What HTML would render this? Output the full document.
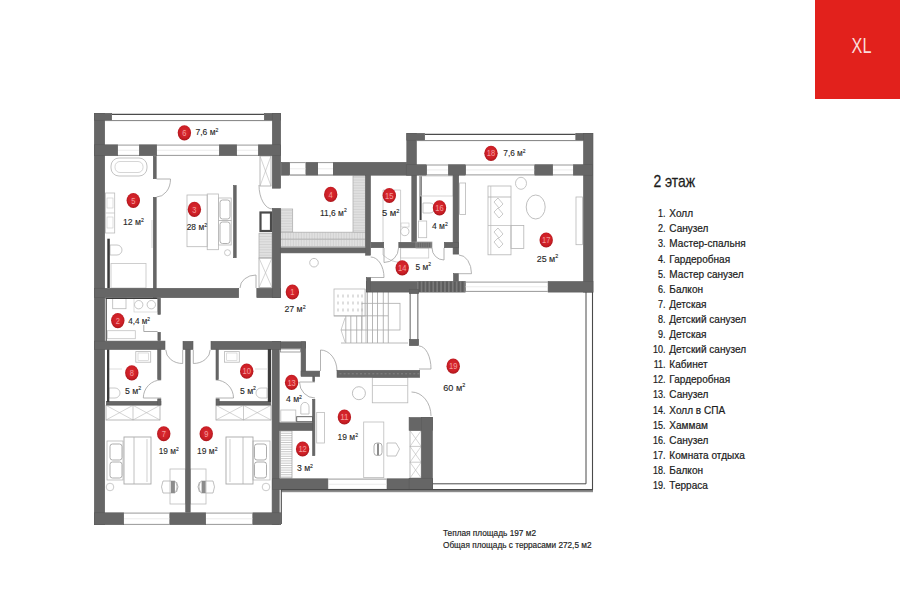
<!DOCTYPE html>
<html><head><meta charset="utf-8"><style>
html,body{margin:0;padding:0;background:#fff;width:900px;height:600px;overflow:hidden}
svg{display:block;font-family:"Liberation Sans",sans-serif}
</style></head><body>
<svg width="900" height="600" viewBox="0 0 900 600">
<defs><radialGradient id="bg" cx="0.5" cy="0.45" r="0.55"><stop offset="0" stop-color="#dc2a30"/><stop offset="0.7" stop-color="#cc1f26"/><stop offset="1" stop-color="#a8161c"/></radialGradient></defs>
<rect x="815" y="0" width="85" height="99" fill="#e2211c"/>
<text x="861.5" y="52.7" text-anchor="middle" font-size="21.4" fill="#fbdcda" transform="translate(861.5 0) scale(0.76 1) translate(-861.5 0)">XL</text>
<rect x="111" y="158" width="36" height="18" rx="8" fill="none" stroke="#bcbcbc" stroke-width="0.9"/>
<rect x="115" y="161.5" width="28" height="11.0" rx="5" fill="none" stroke="#c4c4c4" stroke-width="0.7"/>
<rect x="105.5" y="193" width="9.2" height="40" rx="0" fill="none" stroke="#bcbcbc" stroke-width="0.8"/>
<line x1="105.5" y1="213" x2="114.7" y2="213" stroke="#bcbcbc" stroke-width="0.7"/>
<rect x="107" y="198" width="6" height="10" rx="0" fill="none" stroke="#cacaca" stroke-width="0.6"/>
<rect x="107" y="217" width="6" height="11" rx="0" fill="none" stroke="#cacaca" stroke-width="0.6"/>
<path d="M110,245 H117 A5,5 0 0 1 117,255 H110 Z" fill="none" stroke="#b8b8b8" stroke-width="0.8"/>
<rect x="111" y="263.5" width="35" height="24.5" rx="0" fill="none" stroke="#c3c3c3" stroke-width="0.8"/>
<line x1="152" y1="220" x2="152" y2="248" stroke="#c4c4c4" stroke-width="0.7"/>
<rect x="187" y="195" width="20.2" height="51.7" rx="0" fill="none" stroke="#b8b8b8" stroke-width="0.8"/>
<rect x="207.2" y="194" width="11.3" height="55.7" rx="0" fill="none" stroke="#b8b8b8" stroke-width="0.8"/>
<rect x="218.5" y="198" width="12.7" height="22.5" rx="0" fill="none" stroke="#b8b8b8" stroke-width="0.8"/>
<rect x="218.5" y="220.5" width="12.7" height="24.5" rx="0" fill="none" stroke="#b8b8b8" stroke-width="0.8"/>
<rect x="220" y="200" width="10" height="19" rx="2.5" fill="none" stroke="#a8a8a8" stroke-width="0.9"/>
<rect x="220" y="222" width="10" height="21.5" rx="2.5" fill="none" stroke="#a8a8a8" stroke-width="0.9"/>
<circle cx="227.5" cy="252.7" r="3" fill="none" stroke="#bcbcbc" stroke-width="0.8"/>
<rect x="260" y="156" width="11" height="30" rx="0" fill="none" stroke="#a8a8a8" stroke-width="0.8"/>
<line x1="260" y1="156.0" x2="271" y2="186.0" stroke="#b8b8b8" stroke-width="0.6"/>
<line x1="271" y1="156.0" x2="260" y2="186.0" stroke="#b8b8b8" stroke-width="0.6"/>
<rect x="259" y="233.3" width="13" height="24.7" fill="#ececec"/>
<rect x="259" y="233.3" width="13" height="24.7" rx="0" fill="none" stroke="#a6a6a6" stroke-width="0.7"/>
<line x1="259" y1="234.9" x2="272" y2="234.9" stroke="#b6b6b6" stroke-width="0.5"/>
<line x1="259" y1="236.5" x2="272" y2="236.5" stroke="#b6b6b6" stroke-width="0.5"/>
<line x1="259" y1="238.1" x2="272" y2="238.1" stroke="#b6b6b6" stroke-width="0.5"/>
<line x1="259" y1="239.7" x2="272" y2="239.7" stroke="#b6b6b6" stroke-width="0.5"/>
<line x1="259" y1="241.29999999999998" x2="272" y2="241.29999999999998" stroke="#b6b6b6" stroke-width="0.5"/>
<line x1="259" y1="242.89999999999998" x2="272" y2="242.89999999999998" stroke="#b6b6b6" stroke-width="0.5"/>
<line x1="259" y1="244.49999999999997" x2="272" y2="244.49999999999997" stroke="#b6b6b6" stroke-width="0.5"/>
<line x1="259" y1="246.09999999999997" x2="272" y2="246.09999999999997" stroke="#b6b6b6" stroke-width="0.5"/>
<line x1="259" y1="247.69999999999996" x2="272" y2="247.69999999999996" stroke="#b6b6b6" stroke-width="0.5"/>
<line x1="259" y1="249.29999999999995" x2="272" y2="249.29999999999995" stroke="#b6b6b6" stroke-width="0.5"/>
<line x1="259" y1="250.89999999999995" x2="272" y2="250.89999999999995" stroke="#b6b6b6" stroke-width="0.5"/>
<line x1="259" y1="252.49999999999994" x2="272" y2="252.49999999999994" stroke="#b6b6b6" stroke-width="0.5"/>
<line x1="259" y1="254.09999999999994" x2="272" y2="254.09999999999994" stroke="#b6b6b6" stroke-width="0.5"/>
<line x1="259" y1="255.69999999999993" x2="272" y2="255.69999999999993" stroke="#b6b6b6" stroke-width="0.5"/>
<line x1="259" y1="257.29999999999995" x2="272" y2="257.29999999999995" stroke="#b6b6b6" stroke-width="0.5"/>
<rect x="259" y="258" width="13" height="29.5" rx="0" fill="none" stroke="#a8a8a8" stroke-width="0.8"/>
<line x1="259" y1="258.0" x2="272" y2="287.5" stroke="#b8b8b8" stroke-width="0.6"/>
<line x1="272" y1="258.0" x2="259" y2="287.5" stroke="#b8b8b8" stroke-width="0.6"/>
<rect x="353" y="176" width="12.3" height="56.2" fill="#ececec"/>
<rect x="353" y="176" width="12.3" height="56.2" rx="0" fill="none" stroke="#a6a6a6" stroke-width="0.7"/>
<line x1="353" y1="177.6" x2="365.3" y2="177.6" stroke="#b6b6b6" stroke-width="0.5"/>
<line x1="353" y1="179.2" x2="365.3" y2="179.2" stroke="#b6b6b6" stroke-width="0.5"/>
<line x1="353" y1="180.79999999999998" x2="365.3" y2="180.79999999999998" stroke="#b6b6b6" stroke-width="0.5"/>
<line x1="353" y1="182.39999999999998" x2="365.3" y2="182.39999999999998" stroke="#b6b6b6" stroke-width="0.5"/>
<line x1="353" y1="183.99999999999997" x2="365.3" y2="183.99999999999997" stroke="#b6b6b6" stroke-width="0.5"/>
<line x1="353" y1="185.59999999999997" x2="365.3" y2="185.59999999999997" stroke="#b6b6b6" stroke-width="0.5"/>
<line x1="353" y1="187.19999999999996" x2="365.3" y2="187.19999999999996" stroke="#b6b6b6" stroke-width="0.5"/>
<line x1="353" y1="188.79999999999995" x2="365.3" y2="188.79999999999995" stroke="#b6b6b6" stroke-width="0.5"/>
<line x1="353" y1="190.39999999999995" x2="365.3" y2="190.39999999999995" stroke="#b6b6b6" stroke-width="0.5"/>
<line x1="353" y1="191.99999999999994" x2="365.3" y2="191.99999999999994" stroke="#b6b6b6" stroke-width="0.5"/>
<line x1="353" y1="193.59999999999994" x2="365.3" y2="193.59999999999994" stroke="#b6b6b6" stroke-width="0.5"/>
<line x1="353" y1="195.19999999999993" x2="365.3" y2="195.19999999999993" stroke="#b6b6b6" stroke-width="0.5"/>
<line x1="353" y1="196.79999999999993" x2="365.3" y2="196.79999999999993" stroke="#b6b6b6" stroke-width="0.5"/>
<line x1="353" y1="198.39999999999992" x2="365.3" y2="198.39999999999992" stroke="#b6b6b6" stroke-width="0.5"/>
<line x1="353" y1="199.99999999999991" x2="365.3" y2="199.99999999999991" stroke="#b6b6b6" stroke-width="0.5"/>
<line x1="353" y1="201.5999999999999" x2="365.3" y2="201.5999999999999" stroke="#b6b6b6" stroke-width="0.5"/>
<line x1="353" y1="203.1999999999999" x2="365.3" y2="203.1999999999999" stroke="#b6b6b6" stroke-width="0.5"/>
<line x1="353" y1="204.7999999999999" x2="365.3" y2="204.7999999999999" stroke="#b6b6b6" stroke-width="0.5"/>
<line x1="353" y1="206.3999999999999" x2="365.3" y2="206.3999999999999" stroke="#b6b6b6" stroke-width="0.5"/>
<line x1="353" y1="207.9999999999999" x2="365.3" y2="207.9999999999999" stroke="#b6b6b6" stroke-width="0.5"/>
<line x1="353" y1="209.59999999999988" x2="365.3" y2="209.59999999999988" stroke="#b6b6b6" stroke-width="0.5"/>
<line x1="353" y1="211.19999999999987" x2="365.3" y2="211.19999999999987" stroke="#b6b6b6" stroke-width="0.5"/>
<line x1="353" y1="212.79999999999987" x2="365.3" y2="212.79999999999987" stroke="#b6b6b6" stroke-width="0.5"/>
<line x1="353" y1="214.39999999999986" x2="365.3" y2="214.39999999999986" stroke="#b6b6b6" stroke-width="0.5"/>
<line x1="353" y1="215.99999999999986" x2="365.3" y2="215.99999999999986" stroke="#b6b6b6" stroke-width="0.5"/>
<line x1="353" y1="217.59999999999985" x2="365.3" y2="217.59999999999985" stroke="#b6b6b6" stroke-width="0.5"/>
<line x1="353" y1="219.19999999999985" x2="365.3" y2="219.19999999999985" stroke="#b6b6b6" stroke-width="0.5"/>
<line x1="353" y1="220.79999999999984" x2="365.3" y2="220.79999999999984" stroke="#b6b6b6" stroke-width="0.5"/>
<line x1="353" y1="222.39999999999984" x2="365.3" y2="222.39999999999984" stroke="#b6b6b6" stroke-width="0.5"/>
<line x1="353" y1="223.99999999999983" x2="365.3" y2="223.99999999999983" stroke="#b6b6b6" stroke-width="0.5"/>
<line x1="353" y1="225.59999999999982" x2="365.3" y2="225.59999999999982" stroke="#b6b6b6" stroke-width="0.5"/>
<line x1="353" y1="227.19999999999982" x2="365.3" y2="227.19999999999982" stroke="#b6b6b6" stroke-width="0.5"/>
<line x1="353" y1="228.7999999999998" x2="365.3" y2="228.7999999999998" stroke="#b6b6b6" stroke-width="0.5"/>
<line x1="353" y1="230.3999999999998" x2="365.3" y2="230.3999999999998" stroke="#b6b6b6" stroke-width="0.5"/>
<rect x="280.8" y="209" width="11.9" height="23.2" fill="#ececec"/>
<rect x="280.8" y="209" width="11.9" height="23.2" rx="0" fill="none" stroke="#a6a6a6" stroke-width="0.7"/>
<line x1="280.8" y1="210.6" x2="292.7" y2="210.6" stroke="#b6b6b6" stroke-width="0.5"/>
<line x1="280.8" y1="212.2" x2="292.7" y2="212.2" stroke="#b6b6b6" stroke-width="0.5"/>
<line x1="280.8" y1="213.79999999999998" x2="292.7" y2="213.79999999999998" stroke="#b6b6b6" stroke-width="0.5"/>
<line x1="280.8" y1="215.39999999999998" x2="292.7" y2="215.39999999999998" stroke="#b6b6b6" stroke-width="0.5"/>
<line x1="280.8" y1="216.99999999999997" x2="292.7" y2="216.99999999999997" stroke="#b6b6b6" stroke-width="0.5"/>
<line x1="280.8" y1="218.59999999999997" x2="292.7" y2="218.59999999999997" stroke="#b6b6b6" stroke-width="0.5"/>
<line x1="280.8" y1="220.19999999999996" x2="292.7" y2="220.19999999999996" stroke="#b6b6b6" stroke-width="0.5"/>
<line x1="280.8" y1="221.79999999999995" x2="292.7" y2="221.79999999999995" stroke="#b6b6b6" stroke-width="0.5"/>
<line x1="280.8" y1="223.39999999999995" x2="292.7" y2="223.39999999999995" stroke="#b6b6b6" stroke-width="0.5"/>
<line x1="280.8" y1="224.99999999999994" x2="292.7" y2="224.99999999999994" stroke="#b6b6b6" stroke-width="0.5"/>
<line x1="280.8" y1="226.59999999999994" x2="292.7" y2="226.59999999999994" stroke="#b6b6b6" stroke-width="0.5"/>
<line x1="280.8" y1="228.19999999999993" x2="292.7" y2="228.19999999999993" stroke="#b6b6b6" stroke-width="0.5"/>
<line x1="280.8" y1="229.79999999999993" x2="292.7" y2="229.79999999999993" stroke="#b6b6b6" stroke-width="0.5"/>
<line x1="280.8" y1="231.39999999999992" x2="292.7" y2="231.39999999999992" stroke="#b6b6b6" stroke-width="0.5"/>
<rect x="280.8" y="232.2" width="84.5" height="7.0" fill="#ececec"/>
<rect x="280.8" y="232.2" width="84.5" height="7.0" rx="0" fill="none" stroke="#a6a6a6" stroke-width="0.7"/>
<line x1="282.40000000000003" y1="232.2" x2="282.40000000000003" y2="239.2" stroke="#b6b6b6" stroke-width="0.5"/>
<line x1="284.00000000000006" y1="232.2" x2="284.00000000000006" y2="239.2" stroke="#b6b6b6" stroke-width="0.5"/>
<line x1="285.6000000000001" y1="232.2" x2="285.6000000000001" y2="239.2" stroke="#b6b6b6" stroke-width="0.5"/>
<line x1="287.2000000000001" y1="232.2" x2="287.2000000000001" y2="239.2" stroke="#b6b6b6" stroke-width="0.5"/>
<line x1="288.8000000000001" y1="232.2" x2="288.8000000000001" y2="239.2" stroke="#b6b6b6" stroke-width="0.5"/>
<line x1="290.40000000000015" y1="232.2" x2="290.40000000000015" y2="239.2" stroke="#b6b6b6" stroke-width="0.5"/>
<line x1="292.00000000000017" y1="232.2" x2="292.00000000000017" y2="239.2" stroke="#b6b6b6" stroke-width="0.5"/>
<line x1="293.6000000000002" y1="232.2" x2="293.6000000000002" y2="239.2" stroke="#b6b6b6" stroke-width="0.5"/>
<line x1="295.2000000000002" y1="232.2" x2="295.2000000000002" y2="239.2" stroke="#b6b6b6" stroke-width="0.5"/>
<line x1="296.80000000000024" y1="232.2" x2="296.80000000000024" y2="239.2" stroke="#b6b6b6" stroke-width="0.5"/>
<line x1="298.40000000000026" y1="232.2" x2="298.40000000000026" y2="239.2" stroke="#b6b6b6" stroke-width="0.5"/>
<line x1="300.0000000000003" y1="232.2" x2="300.0000000000003" y2="239.2" stroke="#b6b6b6" stroke-width="0.5"/>
<line x1="301.6000000000003" y1="232.2" x2="301.6000000000003" y2="239.2" stroke="#b6b6b6" stroke-width="0.5"/>
<line x1="303.20000000000033" y1="232.2" x2="303.20000000000033" y2="239.2" stroke="#b6b6b6" stroke-width="0.5"/>
<line x1="304.80000000000035" y1="232.2" x2="304.80000000000035" y2="239.2" stroke="#b6b6b6" stroke-width="0.5"/>
<line x1="306.4000000000004" y1="232.2" x2="306.4000000000004" y2="239.2" stroke="#b6b6b6" stroke-width="0.5"/>
<line x1="308.0000000000004" y1="232.2" x2="308.0000000000004" y2="239.2" stroke="#b6b6b6" stroke-width="0.5"/>
<line x1="309.6000000000004" y1="232.2" x2="309.6000000000004" y2="239.2" stroke="#b6b6b6" stroke-width="0.5"/>
<line x1="311.20000000000044" y1="232.2" x2="311.20000000000044" y2="239.2" stroke="#b6b6b6" stroke-width="0.5"/>
<line x1="312.80000000000047" y1="232.2" x2="312.80000000000047" y2="239.2" stroke="#b6b6b6" stroke-width="0.5"/>
<line x1="314.4000000000005" y1="232.2" x2="314.4000000000005" y2="239.2" stroke="#b6b6b6" stroke-width="0.5"/>
<line x1="316.0000000000005" y1="232.2" x2="316.0000000000005" y2="239.2" stroke="#b6b6b6" stroke-width="0.5"/>
<line x1="317.60000000000053" y1="232.2" x2="317.60000000000053" y2="239.2" stroke="#b6b6b6" stroke-width="0.5"/>
<line x1="319.20000000000056" y1="232.2" x2="319.20000000000056" y2="239.2" stroke="#b6b6b6" stroke-width="0.5"/>
<line x1="320.8000000000006" y1="232.2" x2="320.8000000000006" y2="239.2" stroke="#b6b6b6" stroke-width="0.5"/>
<line x1="322.4000000000006" y1="232.2" x2="322.4000000000006" y2="239.2" stroke="#b6b6b6" stroke-width="0.5"/>
<line x1="324.0000000000006" y1="232.2" x2="324.0000000000006" y2="239.2" stroke="#b6b6b6" stroke-width="0.5"/>
<line x1="325.60000000000065" y1="232.2" x2="325.60000000000065" y2="239.2" stroke="#b6b6b6" stroke-width="0.5"/>
<line x1="327.20000000000067" y1="232.2" x2="327.20000000000067" y2="239.2" stroke="#b6b6b6" stroke-width="0.5"/>
<line x1="328.8000000000007" y1="232.2" x2="328.8000000000007" y2="239.2" stroke="#b6b6b6" stroke-width="0.5"/>
<line x1="330.4000000000007" y1="232.2" x2="330.4000000000007" y2="239.2" stroke="#b6b6b6" stroke-width="0.5"/>
<line x1="332.00000000000074" y1="232.2" x2="332.00000000000074" y2="239.2" stroke="#b6b6b6" stroke-width="0.5"/>
<line x1="333.60000000000076" y1="232.2" x2="333.60000000000076" y2="239.2" stroke="#b6b6b6" stroke-width="0.5"/>
<line x1="335.2000000000008" y1="232.2" x2="335.2000000000008" y2="239.2" stroke="#b6b6b6" stroke-width="0.5"/>
<line x1="336.8000000000008" y1="232.2" x2="336.8000000000008" y2="239.2" stroke="#b6b6b6" stroke-width="0.5"/>
<line x1="338.40000000000083" y1="232.2" x2="338.40000000000083" y2="239.2" stroke="#b6b6b6" stroke-width="0.5"/>
<line x1="340.00000000000085" y1="232.2" x2="340.00000000000085" y2="239.2" stroke="#b6b6b6" stroke-width="0.5"/>
<line x1="341.6000000000009" y1="232.2" x2="341.6000000000009" y2="239.2" stroke="#b6b6b6" stroke-width="0.5"/>
<line x1="343.2000000000009" y1="232.2" x2="343.2000000000009" y2="239.2" stroke="#b6b6b6" stroke-width="0.5"/>
<line x1="344.8000000000009" y1="232.2" x2="344.8000000000009" y2="239.2" stroke="#b6b6b6" stroke-width="0.5"/>
<line x1="346.40000000000094" y1="232.2" x2="346.40000000000094" y2="239.2" stroke="#b6b6b6" stroke-width="0.5"/>
<line x1="348.00000000000097" y1="232.2" x2="348.00000000000097" y2="239.2" stroke="#b6b6b6" stroke-width="0.5"/>
<line x1="349.600000000001" y1="232.2" x2="349.600000000001" y2="239.2" stroke="#b6b6b6" stroke-width="0.5"/>
<line x1="351.200000000001" y1="232.2" x2="351.200000000001" y2="239.2" stroke="#b6b6b6" stroke-width="0.5"/>
<line x1="352.80000000000103" y1="232.2" x2="352.80000000000103" y2="239.2" stroke="#b6b6b6" stroke-width="0.5"/>
<line x1="354.40000000000106" y1="232.2" x2="354.40000000000106" y2="239.2" stroke="#b6b6b6" stroke-width="0.5"/>
<line x1="356.0000000000011" y1="232.2" x2="356.0000000000011" y2="239.2" stroke="#b6b6b6" stroke-width="0.5"/>
<line x1="357.6000000000011" y1="232.2" x2="357.6000000000011" y2="239.2" stroke="#b6b6b6" stroke-width="0.5"/>
<line x1="359.2000000000011" y1="232.2" x2="359.2000000000011" y2="239.2" stroke="#b6b6b6" stroke-width="0.5"/>
<line x1="360.80000000000115" y1="232.2" x2="360.80000000000115" y2="239.2" stroke="#b6b6b6" stroke-width="0.5"/>
<line x1="362.40000000000117" y1="232.2" x2="362.40000000000117" y2="239.2" stroke="#b6b6b6" stroke-width="0.5"/>
<line x1="364.0000000000012" y1="232.2" x2="364.0000000000012" y2="239.2" stroke="#b6b6b6" stroke-width="0.5"/>
<rect x="280.8" y="239.2" width="84.5" height="7.4" fill="#ececec"/>
<rect x="280.8" y="239.2" width="84.5" height="7.4" rx="0" fill="none" stroke="#a6a6a6" stroke-width="0.7"/>
<line x1="282.40000000000003" y1="239.2" x2="282.40000000000003" y2="246.6" stroke="#b6b6b6" stroke-width="0.5"/>
<line x1="284.00000000000006" y1="239.2" x2="284.00000000000006" y2="246.6" stroke="#b6b6b6" stroke-width="0.5"/>
<line x1="285.6000000000001" y1="239.2" x2="285.6000000000001" y2="246.6" stroke="#b6b6b6" stroke-width="0.5"/>
<line x1="287.2000000000001" y1="239.2" x2="287.2000000000001" y2="246.6" stroke="#b6b6b6" stroke-width="0.5"/>
<line x1="288.8000000000001" y1="239.2" x2="288.8000000000001" y2="246.6" stroke="#b6b6b6" stroke-width="0.5"/>
<line x1="290.40000000000015" y1="239.2" x2="290.40000000000015" y2="246.6" stroke="#b6b6b6" stroke-width="0.5"/>
<line x1="292.00000000000017" y1="239.2" x2="292.00000000000017" y2="246.6" stroke="#b6b6b6" stroke-width="0.5"/>
<line x1="293.6000000000002" y1="239.2" x2="293.6000000000002" y2="246.6" stroke="#b6b6b6" stroke-width="0.5"/>
<line x1="295.2000000000002" y1="239.2" x2="295.2000000000002" y2="246.6" stroke="#b6b6b6" stroke-width="0.5"/>
<line x1="296.80000000000024" y1="239.2" x2="296.80000000000024" y2="246.6" stroke="#b6b6b6" stroke-width="0.5"/>
<line x1="298.40000000000026" y1="239.2" x2="298.40000000000026" y2="246.6" stroke="#b6b6b6" stroke-width="0.5"/>
<line x1="300.0000000000003" y1="239.2" x2="300.0000000000003" y2="246.6" stroke="#b6b6b6" stroke-width="0.5"/>
<line x1="301.6000000000003" y1="239.2" x2="301.6000000000003" y2="246.6" stroke="#b6b6b6" stroke-width="0.5"/>
<line x1="303.20000000000033" y1="239.2" x2="303.20000000000033" y2="246.6" stroke="#b6b6b6" stroke-width="0.5"/>
<line x1="304.80000000000035" y1="239.2" x2="304.80000000000035" y2="246.6" stroke="#b6b6b6" stroke-width="0.5"/>
<line x1="306.4000000000004" y1="239.2" x2="306.4000000000004" y2="246.6" stroke="#b6b6b6" stroke-width="0.5"/>
<line x1="308.0000000000004" y1="239.2" x2="308.0000000000004" y2="246.6" stroke="#b6b6b6" stroke-width="0.5"/>
<line x1="309.6000000000004" y1="239.2" x2="309.6000000000004" y2="246.6" stroke="#b6b6b6" stroke-width="0.5"/>
<line x1="311.20000000000044" y1="239.2" x2="311.20000000000044" y2="246.6" stroke="#b6b6b6" stroke-width="0.5"/>
<line x1="312.80000000000047" y1="239.2" x2="312.80000000000047" y2="246.6" stroke="#b6b6b6" stroke-width="0.5"/>
<line x1="314.4000000000005" y1="239.2" x2="314.4000000000005" y2="246.6" stroke="#b6b6b6" stroke-width="0.5"/>
<line x1="316.0000000000005" y1="239.2" x2="316.0000000000005" y2="246.6" stroke="#b6b6b6" stroke-width="0.5"/>
<line x1="317.60000000000053" y1="239.2" x2="317.60000000000053" y2="246.6" stroke="#b6b6b6" stroke-width="0.5"/>
<line x1="319.20000000000056" y1="239.2" x2="319.20000000000056" y2="246.6" stroke="#b6b6b6" stroke-width="0.5"/>
<line x1="320.8000000000006" y1="239.2" x2="320.8000000000006" y2="246.6" stroke="#b6b6b6" stroke-width="0.5"/>
<line x1="322.4000000000006" y1="239.2" x2="322.4000000000006" y2="246.6" stroke="#b6b6b6" stroke-width="0.5"/>
<line x1="324.0000000000006" y1="239.2" x2="324.0000000000006" y2="246.6" stroke="#b6b6b6" stroke-width="0.5"/>
<line x1="325.60000000000065" y1="239.2" x2="325.60000000000065" y2="246.6" stroke="#b6b6b6" stroke-width="0.5"/>
<line x1="327.20000000000067" y1="239.2" x2="327.20000000000067" y2="246.6" stroke="#b6b6b6" stroke-width="0.5"/>
<line x1="328.8000000000007" y1="239.2" x2="328.8000000000007" y2="246.6" stroke="#b6b6b6" stroke-width="0.5"/>
<line x1="330.4000000000007" y1="239.2" x2="330.4000000000007" y2="246.6" stroke="#b6b6b6" stroke-width="0.5"/>
<line x1="332.00000000000074" y1="239.2" x2="332.00000000000074" y2="246.6" stroke="#b6b6b6" stroke-width="0.5"/>
<line x1="333.60000000000076" y1="239.2" x2="333.60000000000076" y2="246.6" stroke="#b6b6b6" stroke-width="0.5"/>
<line x1="335.2000000000008" y1="239.2" x2="335.2000000000008" y2="246.6" stroke="#b6b6b6" stroke-width="0.5"/>
<line x1="336.8000000000008" y1="239.2" x2="336.8000000000008" y2="246.6" stroke="#b6b6b6" stroke-width="0.5"/>
<line x1="338.40000000000083" y1="239.2" x2="338.40000000000083" y2="246.6" stroke="#b6b6b6" stroke-width="0.5"/>
<line x1="340.00000000000085" y1="239.2" x2="340.00000000000085" y2="246.6" stroke="#b6b6b6" stroke-width="0.5"/>
<line x1="341.6000000000009" y1="239.2" x2="341.6000000000009" y2="246.6" stroke="#b6b6b6" stroke-width="0.5"/>
<line x1="343.2000000000009" y1="239.2" x2="343.2000000000009" y2="246.6" stroke="#b6b6b6" stroke-width="0.5"/>
<line x1="344.8000000000009" y1="239.2" x2="344.8000000000009" y2="246.6" stroke="#b6b6b6" stroke-width="0.5"/>
<line x1="346.40000000000094" y1="239.2" x2="346.40000000000094" y2="246.6" stroke="#b6b6b6" stroke-width="0.5"/>
<line x1="348.00000000000097" y1="239.2" x2="348.00000000000097" y2="246.6" stroke="#b6b6b6" stroke-width="0.5"/>
<line x1="349.600000000001" y1="239.2" x2="349.600000000001" y2="246.6" stroke="#b6b6b6" stroke-width="0.5"/>
<line x1="351.200000000001" y1="239.2" x2="351.200000000001" y2="246.6" stroke="#b6b6b6" stroke-width="0.5"/>
<line x1="352.80000000000103" y1="239.2" x2="352.80000000000103" y2="246.6" stroke="#b6b6b6" stroke-width="0.5"/>
<line x1="354.40000000000106" y1="239.2" x2="354.40000000000106" y2="246.6" stroke="#b6b6b6" stroke-width="0.5"/>
<line x1="356.0000000000011" y1="239.2" x2="356.0000000000011" y2="246.6" stroke="#b6b6b6" stroke-width="0.5"/>
<line x1="357.6000000000011" y1="239.2" x2="357.6000000000011" y2="246.6" stroke="#b6b6b6" stroke-width="0.5"/>
<line x1="359.2000000000011" y1="239.2" x2="359.2000000000011" y2="246.6" stroke="#b6b6b6" stroke-width="0.5"/>
<line x1="360.80000000000115" y1="239.2" x2="360.80000000000115" y2="246.6" stroke="#b6b6b6" stroke-width="0.5"/>
<line x1="362.40000000000117" y1="239.2" x2="362.40000000000117" y2="246.6" stroke="#b6b6b6" stroke-width="0.5"/>
<line x1="364.0000000000012" y1="239.2" x2="364.0000000000012" y2="246.6" stroke="#b6b6b6" stroke-width="0.5"/>
<circle cx="314" cy="262.7" r="4.3" fill="none" stroke="#bcbcbc" stroke-width="0.9"/>
<path d="M383,190 H400.6 V262 Q392,263 383,255 Z" fill="none" stroke="#c1c1c1" stroke-width="0.8"/>
<circle cx="404.8" cy="231.5" r="4.2" fill="none" stroke="#b8b8b8" stroke-width="0.8"/>
<rect x="401" y="223" width="8" height="4" rx="0" fill="none" stroke="#c4c4c4" stroke-width="0.6"/>
<rect x="419.6" y="176" width="2.0" height="44" fill="#3c3c3c"/>
<rect x="420.4" y="176" width="32.6" height="20" rx="0" fill="none" stroke="#c4c4c4" stroke-width="0.7"/>
<rect x="418.5" y="221" width="8.2" height="16.7" rx="0" fill="none" stroke="#bcbcbc" stroke-width="0.8"/>
<path d="M423,203 H430 A5,5 0 0 1 430,213 H423 Z" fill="none" stroke="#b8b8b8" stroke-width="0.8"/>
<rect x="400.6" y="248" width="28.15" height="10" rx="0" fill="none" stroke="#c4c4c4" stroke-width="0.7"/>
<rect x="488" y="186" width="23" height="68.8" rx="0" fill="none" stroke="#b4b4b4" stroke-width="0.8"/>
<line x1="490.8" y1="186" x2="490.8" y2="254.8" stroke="#b8b8b8" stroke-width="0.7"/>
<line x1="488" y1="197" x2="511" y2="197" stroke="#acacac" stroke-width="0.8"/>
<line x1="488" y1="225.5" x2="511" y2="225.5" stroke="#b8b8b8" stroke-width="0.7"/>
<rect x="511" y="225.5" width="12.8" height="22.9" rx="0" fill="none" stroke="#b4b4b4" stroke-width="0.8"/>
<path d="M494,202 l4,-4 l5,6 l-4,4 Z M494,212 l4,-4 l5,6 l-4,4 Z" fill="none" stroke="#b4b4b4" stroke-width="0.7"/>
<path d="M494,232 l4,-4 l5,6 l-4,4 Z M494,242 l4,-4 l5,6 l-4,4 Z" fill="none" stroke="#b4b4b4" stroke-width="0.7"/>
<ellipse cx="535.7" cy="207" rx="9.5" ry="12" fill="none" stroke="#b8b8b8" stroke-width="0.9"/>
<ellipse cx="521" cy="183.3" rx="5.5" ry="6" fill="none" stroke="#b8b8b8" stroke-width="0.8"/>
<rect x="576" y="197" width="6.5" height="47.7" rx="0" fill="none" stroke="#b8b8b8" stroke-width="0.8"/>
<rect x="459.6" y="183" width="6.0" height="31.5" rx="0" fill="none" stroke="#b8b8b8" stroke-width="0.8"/>
<rect x="112.7" y="298" width="13.3" height="10.7" rx="0" fill="none" stroke="#b8b8b8" stroke-width="0.8"/>
<circle cx="138.7" cy="304.7" r="4.2" fill="none" stroke="#b8b8b8" stroke-width="0.8"/>
<circle cx="151.3" cy="304.7" r="4.2" fill="none" stroke="#b8b8b8" stroke-width="0.8"/>
<rect x="134" y="298" width="23.5" height="14" rx="0" fill="none" stroke="#c8c8c8" stroke-width="0.6"/>
<rect x="107.3" y="330.7" width="28.0" height="8.0" rx="0" fill="none" stroke="#c3c3c3" stroke-width="0.8"/>
<rect x="135.8" y="351.6" width="14.9" height="10.6" rx="0" fill="none" stroke="#b8b8b8" stroke-width="0.8"/>
<rect x="138" y="353" width="10.5" height="7.5" rx="0" fill="none" stroke="#c8c8c8" stroke-width="0.6"/>
<path d="M109,388 H115 A5,5 0 0 1 115,398 H109 Z" fill="none" stroke="#bcbcbc" stroke-width="0.8"/>
<line x1="109" y1="369" x2="122" y2="369" stroke="#c8c8c8" stroke-width="0.6"/>
<rect x="224.5" y="351.6" width="14.8" height="10.6" rx="0" fill="none" stroke="#b8b8b8" stroke-width="0.8"/>
<rect x="226.7" y="353" width="10.3" height="7.5" rx="0" fill="none" stroke="#c8c8c8" stroke-width="0.6"/>
<path d="M267,388 H261 A5,5 0 0 0 261,398 H267 Z" fill="none" stroke="#bcbcbc" stroke-width="0.8"/>
<line x1="255" y1="369" x2="267" y2="369" stroke="#c8c8c8" stroke-width="0.6"/>
<rect x="106" y="405.3" width="54" height="14.7" rx="0" fill="none" stroke="#a8a8a8" stroke-width="0.8"/>
<line x1="106.0" y1="405.3" x2="133.0" y2="420" stroke="#b8b8b8" stroke-width="0.6"/>
<line x1="133.0" y1="405.3" x2="106.0" y2="420" stroke="#b8b8b8" stroke-width="0.6"/>
<line x1="133.0" y1="405.3" x2="160.0" y2="420" stroke="#b8b8b8" stroke-width="0.6"/>
<line x1="160.0" y1="405.3" x2="133.0" y2="420" stroke="#b8b8b8" stroke-width="0.6"/>
<line x1="133.0" y1="405.3" x2="133.0" y2="420" stroke="#a8a8a8" stroke-width="0.6"/>
<rect x="216" y="405.3" width="55" height="14.7" rx="0" fill="none" stroke="#a8a8a8" stroke-width="0.8"/>
<line x1="216.0" y1="405.3" x2="243.5" y2="420" stroke="#b8b8b8" stroke-width="0.6"/>
<line x1="243.5" y1="405.3" x2="216.0" y2="420" stroke="#b8b8b8" stroke-width="0.6"/>
<line x1="243.5" y1="405.3" x2="271.0" y2="420" stroke="#b8b8b8" stroke-width="0.6"/>
<line x1="271.0" y1="405.3" x2="243.5" y2="420" stroke="#b8b8b8" stroke-width="0.6"/>
<line x1="243.5" y1="405.3" x2="243.5" y2="420" stroke="#a8a8a8" stroke-width="0.6"/>
<rect x="107" y="441" width="16" height="39" rx="0" fill="none" stroke="#b8b8b8" stroke-width="0.8"/>
<rect x="110" y="444" width="12" height="16" rx="2.5" fill="none" stroke="#a4a4a4" stroke-width="0.9"/>
<rect x="110" y="462" width="12" height="16" rx="2.5" fill="none" stroke="#a4a4a4" stroke-width="0.9"/>
<rect x="124" y="437" width="27" height="47" rx="0" fill="none" stroke="#a8a8a8" stroke-width="0.9"/>
<line x1="134" y1="437" x2="134" y2="484" stroke="#b0b0b0" stroke-width="0.8"/>
<line x1="147" y1="439" x2="147" y2="482" stroke="#bcbcbc" stroke-width="0.7"/>
<circle cx="110" cy="487" r="3.8" fill="none" stroke="#bcbcbc" stroke-width="0.8"/>
<rect x="170" y="469" width="15.5" height="35" rx="0" fill="none" stroke="#bcbcbc" stroke-width="0.8"/>
<path d="M163,481 H175 Q179,486.7 175,493 H163 Q160,486.7 163,481 Z" fill="none" stroke="#b0b0b0" stroke-width="0.8"/>
<path d="M176.5,482 Q179.5,486.7 176.5,492" fill="none" stroke="#a8a8a8" stroke-width="0.9"/>
<rect x="170.9" y="481" width="4.0" height="12" fill="#8c8c8c"/>
<rect x="253" y="441" width="17" height="39" rx="0" fill="none" stroke="#b8b8b8" stroke-width="0.8"/>
<rect x="254.5" y="444" width="12.0" height="16" rx="2.5" fill="none" stroke="#a4a4a4" stroke-width="0.9"/>
<rect x="254.5" y="462" width="12.0" height="16" rx="2.5" fill="none" stroke="#a4a4a4" stroke-width="0.9"/>
<rect x="226" y="437" width="27" height="47" rx="0" fill="none" stroke="#a8a8a8" stroke-width="0.9"/>
<line x1="243" y1="437" x2="243" y2="484" stroke="#b0b0b0" stroke-width="0.8"/>
<line x1="230" y1="439" x2="230" y2="482" stroke="#bcbcbc" stroke-width="0.7"/>
<circle cx="266" cy="487" r="3.8" fill="none" stroke="#bcbcbc" stroke-width="0.8"/>
<rect x="190.5" y="469" width="15.5" height="35" rx="0" fill="none" stroke="#bcbcbc" stroke-width="0.8"/>
<path d="M201,481 H213 Q216,486.7 213,493 H201 Q197,486.7 201,481 Z" fill="none" stroke="#b0b0b0" stroke-width="0.8"/>
<path d="M199.5,482 Q196.5,486.7 199.5,492" fill="none" stroke="#a8a8a8" stroke-width="0.9"/>
<rect x="201.6" y="481" width="4.0" height="12" fill="#8c8c8c"/>
<rect x="280.5" y="349" width="20.0" height="3" rx="0" fill="none" stroke="#8a8a8a" stroke-width="0.8"/>
<path d="M300.8,414 V407 A4,4.5 0 0 1 309,407 V414 Z" fill="none" stroke="#b8b8b8" stroke-width="0.8"/>
<rect x="280.8" y="410" width="15.0" height="11.7" rx="0" fill="none" stroke="#bcbcbc" stroke-width="0.8"/>
<rect x="296.7" y="416.7" width="15.8" height="5.0" rx="0" fill="none" stroke="#555" stroke-width="0.9"/>
<rect x="280.5" y="431" width="11.5" height="47" rx="0" fill="none" stroke="#9a9a9a" stroke-width="0.7"/>
<line x1="280.5" y1="433.3" x2="292" y2="433.3" stroke="#a4a4a4" stroke-width="0.6"/>
<line x1="280.5" y1="435.6" x2="292" y2="435.6" stroke="#a4a4a4" stroke-width="0.6"/>
<line x1="280.5" y1="437.90000000000003" x2="292" y2="437.90000000000003" stroke="#a4a4a4" stroke-width="0.6"/>
<line x1="280.5" y1="440.20000000000005" x2="292" y2="440.20000000000005" stroke="#a4a4a4" stroke-width="0.6"/>
<line x1="280.5" y1="442.50000000000006" x2="292" y2="442.50000000000006" stroke="#a4a4a4" stroke-width="0.6"/>
<line x1="280.5" y1="444.80000000000007" x2="292" y2="444.80000000000007" stroke="#a4a4a4" stroke-width="0.6"/>
<line x1="280.5" y1="447.1000000000001" x2="292" y2="447.1000000000001" stroke="#a4a4a4" stroke-width="0.6"/>
<line x1="280.5" y1="449.4000000000001" x2="292" y2="449.4000000000001" stroke="#a4a4a4" stroke-width="0.6"/>
<line x1="280.5" y1="451.7000000000001" x2="292" y2="451.7000000000001" stroke="#a4a4a4" stroke-width="0.6"/>
<line x1="280.5" y1="454.0000000000001" x2="292" y2="454.0000000000001" stroke="#a4a4a4" stroke-width="0.6"/>
<line x1="280.5" y1="456.3000000000001" x2="292" y2="456.3000000000001" stroke="#a4a4a4" stroke-width="0.6"/>
<line x1="280.5" y1="458.60000000000014" x2="292" y2="458.60000000000014" stroke="#a4a4a4" stroke-width="0.6"/>
<line x1="280.5" y1="460.90000000000015" x2="292" y2="460.90000000000015" stroke="#a4a4a4" stroke-width="0.6"/>
<line x1="280.5" y1="463.20000000000016" x2="292" y2="463.20000000000016" stroke="#a4a4a4" stroke-width="0.6"/>
<line x1="280.5" y1="465.50000000000017" x2="292" y2="465.50000000000017" stroke="#a4a4a4" stroke-width="0.6"/>
<line x1="280.5" y1="467.8000000000002" x2="292" y2="467.8000000000002" stroke="#a4a4a4" stroke-width="0.6"/>
<line x1="280.5" y1="470.1000000000002" x2="292" y2="470.1000000000002" stroke="#a4a4a4" stroke-width="0.6"/>
<line x1="280.5" y1="472.4000000000002" x2="292" y2="472.4000000000002" stroke="#a4a4a4" stroke-width="0.6"/>
<line x1="280.5" y1="474.7000000000002" x2="292" y2="474.7000000000002" stroke="#a4a4a4" stroke-width="0.6"/>
<line x1="280.5" y1="477.0000000000002" x2="292" y2="477.0000000000002" stroke="#a4a4a4" stroke-width="0.6"/>
<circle cx="358.9" cy="393.2" r="6.5" fill="none" stroke="#b8b8b8" stroke-width="0.9"/>
<rect x="372.3" y="377.6" width="35.5" height="25.2" rx="0" fill="none" stroke="#b8b8b8" stroke-width="0.8"/>
<line x1="372.3" y1="385.5" x2="407.8" y2="385.5" stroke="#c0c0c0" stroke-width="0.7"/>
<rect x="363.7" y="422" width="20.1" height="55.6" rx="0" fill="none" stroke="#bcbcbc" stroke-width="0.8"/>
<path d="M387,443 H396 L399.5,449 L396,456 H387 Z" fill="none" stroke="#b4b4b4" stroke-width="0.8"/>
<rect x="374" y="443" width="8" height="12.5" rx="3" fill="none" stroke="#9c9c9c" stroke-width="0.8"/>
<line x1="378" y1="443.5" x2="378" y2="455" stroke="#707070" stroke-width="1.6"/>
<rect x="316.7" y="412.4" width="7.7" height="30.6" rx="0" fill="none" stroke="#bcbcbc" stroke-width="0.8"/>
<rect x="410" y="430.6" width="11.2" height="47.4" rx="0" fill="none" stroke="#a8a8a8" stroke-width="0.8"/>
<line x1="410" y1="430.6" x2="421.2" y2="446.40000000000003" stroke="#b8b8b8" stroke-width="0.6"/>
<line x1="421.2" y1="430.6" x2="410" y2="446.40000000000003" stroke="#b8b8b8" stroke-width="0.6"/>
<line x1="410" y1="446.40000000000003" x2="421.2" y2="462.20000000000005" stroke="#b8b8b8" stroke-width="0.6"/>
<line x1="421.2" y1="446.40000000000003" x2="410" y2="462.20000000000005" stroke="#b8b8b8" stroke-width="0.6"/>
<line x1="410" y1="446.40000000000003" x2="421.2" y2="446.40000000000003" stroke="#a8a8a8" stroke-width="0.6"/>
<line x1="410" y1="462.2" x2="421.2" y2="478.0" stroke="#b8b8b8" stroke-width="0.6"/>
<line x1="421.2" y1="462.2" x2="410" y2="478.0" stroke="#b8b8b8" stroke-width="0.6"/>
<line x1="410" y1="462.2" x2="421.2" y2="462.2" stroke="#a8a8a8" stroke-width="0.6"/>
<rect x="334" y="289" width="31" height="27" rx="0" fill="none" stroke="#b8b8b8" stroke-width="0.8"/>
<line x1="345.8" y1="316" x2="345.8" y2="343" stroke="#a4a4a4" stroke-width="0.8"/>
<line x1="350.8" y1="316" x2="350.8" y2="343" stroke="#a4a4a4" stroke-width="0.8"/>
<line x1="356.7" y1="316" x2="356.7" y2="343" stroke="#a4a4a4" stroke-width="0.8"/>
<line x1="361.7" y1="316" x2="361.7" y2="343" stroke="#a4a4a4" stroke-width="0.8"/>
<line x1="367.5" y1="289" x2="367.5" y2="343" stroke="#a4a4a4" stroke-width="0.8"/>
<line x1="372.5" y1="289" x2="372.5" y2="343" stroke="#a4a4a4" stroke-width="0.8"/>
<line x1="377.5" y1="289" x2="377.5" y2="343" stroke="#a4a4a4" stroke-width="0.8"/>
<line x1="383.3" y1="289" x2="383.3" y2="343" stroke="#a4a4a4" stroke-width="0.8"/>
<line x1="388.3" y1="289" x2="388.3" y2="343" stroke="#a4a4a4" stroke-width="0.8"/>
<line x1="338" y1="294.5" x2="338" y2="297.5" stroke="#acacac" stroke-width="0.8"/>
<line x1="343" y1="294.5" x2="343" y2="297.5" stroke="#acacac" stroke-width="0.8"/>
<line x1="348" y1="294.5" x2="348" y2="297.5" stroke="#acacac" stroke-width="0.8"/>
<line x1="353" y1="294.5" x2="353" y2="297.5" stroke="#acacac" stroke-width="0.8"/>
<line x1="358" y1="294.5" x2="358" y2="297.5" stroke="#acacac" stroke-width="0.8"/>
<line x1="362" y1="294.5" x2="362" y2="297.5" stroke="#acacac" stroke-width="0.8"/>
<line x1="338" y1="301.5" x2="338" y2="304.5" stroke="#acacac" stroke-width="0.8"/>
<line x1="343" y1="301.5" x2="343" y2="304.5" stroke="#acacac" stroke-width="0.8"/>
<line x1="348" y1="301.5" x2="348" y2="304.5" stroke="#acacac" stroke-width="0.8"/>
<line x1="353" y1="301.5" x2="353" y2="304.5" stroke="#acacac" stroke-width="0.8"/>
<line x1="358" y1="301.5" x2="358" y2="304.5" stroke="#acacac" stroke-width="0.8"/>
<line x1="362" y1="301.5" x2="362" y2="304.5" stroke="#acacac" stroke-width="0.8"/>
<line x1="338" y1="308.5" x2="338" y2="311.5" stroke="#acacac" stroke-width="0.8"/>
<line x1="343" y1="308.5" x2="343" y2="311.5" stroke="#acacac" stroke-width="0.8"/>
<line x1="348" y1="308.5" x2="348" y2="311.5" stroke="#acacac" stroke-width="0.8"/>
<line x1="353" y1="308.5" x2="353" y2="311.5" stroke="#acacac" stroke-width="0.8"/>
<line x1="358" y1="308.5" x2="358" y2="311.5" stroke="#acacac" stroke-width="0.8"/>
<line x1="362" y1="308.5" x2="362" y2="311.5" stroke="#acacac" stroke-width="0.8"/>
<rect x="362" y="303.3" width="38" height="26.7" rx="0" fill="none" stroke="#acacac" stroke-width="0.8"/>
<line x1="334" y1="315.8" x2="388" y2="315.8" stroke="#a8a8a8" stroke-width="0.8"/>
<line x1="341" y1="343" x2="408" y2="343" stroke="#a8a8a8" stroke-width="0.8"/>
<line x1="345" y1="318" x2="341" y2="330" stroke="#b8b8b8" stroke-width="0.7"/>
<line x1="341" y1="330" x2="345" y2="342" stroke="#b8b8b8" stroke-width="0.7"/>
<line x1="366" y1="289" x2="366" y2="343" stroke="#acacac" stroke-width="0.7"/>
<line x1="341" y1="330" x2="362" y2="330" stroke="#a8a8a8" stroke-width="0.8"/>
<line x1="410.2" y1="292" x2="410.2" y2="340" stroke="#8e8e8e" stroke-width="1.4"/>
<line x1="417.8" y1="292" x2="417.8" y2="340" stroke="#8e8e8e" stroke-width="1.4"/>
<path d="M170.5,179 A14.0,18 0 0 1 156.5,197" fill="none" stroke="#a0a0a0" stroke-width="0.8"/>
<line x1="156.5" y1="179" x2="170.5" y2="179" stroke="#a0a0a0" stroke-width="0.8"/>
<path d="M259,185 A13.5,24 0 0 0 272.5,209" fill="none" stroke="#a0a0a0" stroke-width="0.8"/>
<path d="M256,275 A16,13 0 0 0 240,288" fill="none" stroke="#a0a0a0" stroke-width="0.8"/>
<line x1="256" y1="288" x2="256" y2="275" stroke="#a0a0a0" stroke-width="0.8"/>
<line x1="143.8" y1="331.5" x2="157.6" y2="331.5" stroke="#a0a0a0" stroke-width="0.9"/>
<line x1="143.8" y1="331.5" x2="143.8" y2="325" stroke="#a0a0a0" stroke-width="0.9"/>
<path d="M165.8,349.8 A16.899999999999977,13.699999999999989 0 0 0 182.7,363.5" fill="none" stroke="#a0a0a0" stroke-width="0.8"/>
<line x1="182.7" y1="349.8" x2="182.7" y2="363.5" stroke="#a0a0a0" stroke-width="0.8"/>
<path d="M210.2,349.8 A16.899999999999977,13.699999999999989 0 0 1 193.3,363.5" fill="none" stroke="#a0a0a0" stroke-width="0.8"/>
<line x1="193.3" y1="349.8" x2="193.3" y2="363.5" stroke="#a0a0a0" stroke-width="0.8"/>
<path d="M161.2,380 A17.899999999999977,18 0 0 0 143.3,398" fill="none" stroke="#a0a0a0" stroke-width="0.8"/>
<line x1="161.2" y1="398" x2="143.3" y2="398" stroke="#a0a0a0" stroke-width="0.8"/>
<path d="M215.7,380 A17.80000000000001,18 0 0 1 233.5,398" fill="none" stroke="#a0a0a0" stroke-width="0.8"/>
<line x1="215.7" y1="398" x2="233.5" y2="398" stroke="#a0a0a0" stroke-width="0.8"/>
<path d="M370.7,257 A13.300000000000011,20.5 0 0 1 384,277.5" fill="none" stroke="#a0a0a0" stroke-width="0.8"/>
<line x1="370.7" y1="277.5" x2="384" y2="277.5" stroke="#a0a0a0" stroke-width="0.8"/>
<path d="M384,262.5 A14.5,14.5 0 0 0 398.5,248" fill="none" stroke="#a0a0a0" stroke-width="0.8"/>
<line x1="384" y1="248" x2="384" y2="262.5" stroke="#a0a0a0" stroke-width="0.8"/>
<path d="M444,260 A12,12 0 0 1 432,248" fill="none" stroke="#a0a0a0" stroke-width="0.8"/>
<line x1="444" y1="248" x2="444" y2="260" stroke="#a0a0a0" stroke-width="0.8"/>
<path d="M459,255 A12.5,18.69999999999999 0 0 1 471.5,273.7" fill="none" stroke="#a0a0a0" stroke-width="0.8"/>
<line x1="459" y1="273.7" x2="471.5" y2="273.7" stroke="#a0a0a0" stroke-width="0.8"/>
<path d="M320.5,350 A16.5,21 0 0 1 337,371" fill="none" stroke="#a0a0a0" stroke-width="0.8"/>
<line x1="320.5" y1="371" x2="320.5" y2="350" stroke="#a0a0a0" stroke-width="0.8"/>
<path d="M419,346 A12,23 0 0 1 431,369" fill="none" stroke="#a0a0a0" stroke-width="0.8"/>
<line x1="419" y1="369" x2="431" y2="369" stroke="#a0a0a0" stroke-width="0.8"/>
<path d="M411.5,392 A19.5,24 0 0 1 431,416" fill="none" stroke="#a0a0a0" stroke-width="0.8"/>
<path d="M299.5,382 A15.5,16 0 0 0 315,398" fill="none" stroke="#a0a0a0" stroke-width="0.8"/>
<line x1="315" y1="382" x2="299.5" y2="382" stroke="#a0a0a0" stroke-width="0.8"/>
<rect x="94.30" y="113.30" width="10.4" height="411.4" fill="#666666" stroke="#5a5a5a" stroke-width="0.6"/>
<rect x="94.30" y="113.30" width="17.4" height="6.9" fill="#666666" stroke="#5a5a5a" stroke-width="0.6"/>
<rect x="264.30" y="113.30" width="16.4" height="6.9" fill="#666666" stroke="#5a5a5a" stroke-width="0.6"/>
<line x1="112" y1="114.3" x2="264" y2="114.3" stroke="#4a4a4a" stroke-width="1.2"/>
<line x1="105" y1="120.6" x2="272" y2="120.6" stroke="#808080" stroke-width="1.0"/>
<rect x="272.30" y="113.30" width="8.4" height="74.9" fill="#666666" stroke="#5a5a5a" stroke-width="0.6"/>
<rect x="94.30" y="144.80" width="23.4" height="10.9" fill="#666666" stroke="#5a5a5a" stroke-width="0.6"/>
<rect x="139.30" y="144.80" width="17.4" height="10.9" fill="#666666" stroke="#5a5a5a" stroke-width="0.6"/>
<rect x="219.30" y="144.80" width="17.4" height="10.9" fill="#666666" stroke="#5a5a5a" stroke-width="0.6"/>
<rect x="258.30" y="144.80" width="22.4" height="10.9" fill="#666666" stroke="#5a5a5a" stroke-width="0.6"/>
<line x1="118" y1="145.1" x2="139" y2="145.1" stroke="#8c8c8c" stroke-width="0.9"/>
<line x1="118" y1="155.4" x2="139" y2="155.4" stroke="#8c8c8c" stroke-width="0.9"/>
<line x1="118" y1="150.25" x2="139" y2="150.25" stroke="#e4e4e4" stroke-width="0.7"/>
<line x1="157" y1="145.1" x2="219" y2="145.1" stroke="#8c8c8c" stroke-width="0.9"/>
<line x1="157" y1="155.4" x2="219" y2="155.4" stroke="#8c8c8c" stroke-width="0.9"/>
<line x1="157" y1="150.25" x2="219" y2="150.25" stroke="#e4e4e4" stroke-width="0.7"/>
<line x1="237" y1="145.1" x2="258" y2="145.1" stroke="#8c8c8c" stroke-width="0.9"/>
<line x1="237" y1="155.4" x2="258" y2="155.4" stroke="#8c8c8c" stroke-width="0.9"/>
<line x1="237" y1="150.25" x2="258" y2="150.25" stroke="#e4e4e4" stroke-width="0.7"/>
<rect x="153.30" y="156.30" width="2.9" height="22.4" fill="#666666" stroke="#5a5a5a" stroke-width="0.6"/>
<rect x="153.30" y="197.30" width="2.9" height="100.4" fill="#666666" stroke="#5a5a5a" stroke-width="0.6"/>
<rect x="94.30" y="288.30" width="144.4" height="9.4" fill="#666666" stroke="#5a5a5a" stroke-width="0.6"/>
<rect x="256.80" y="288.30" width="23.9" height="9.4" fill="#666666" stroke="#5a5a5a" stroke-width="0.6"/>
<rect x="272.30" y="208.30" width="8.4" height="89.4" fill="#666666" stroke="#5a5a5a" stroke-width="0.6"/>
<rect x="281.30" y="162.30" width="8.4" height="12.9" fill="#666666" stroke="#5a5a5a" stroke-width="0.6"/>
<rect x="233.50" y="185.50" width="2.7" height="72.2" fill="#666666" stroke="#5a5a5a" stroke-width="0.6"/>
<rect x="107.3" y="238.7" width="2.5" height="49.3" fill="#3c3c3c"/>
<rect x="260.5" y="212.5" width="10.5" height="18.5" rx="0" fill="none" stroke="#4a4a4a" stroke-width="2.2"/>
<rect x="290.30" y="162.30" width="116.1" height="12.9" fill="#666666" stroke="#5a5a5a" stroke-width="0.6"/>
<rect x="290" y="162" width="15.5" height="13.5" fill="#ffffff"/>
<line x1="290" y1="162.6" x2="305.5" y2="162.6" stroke="#8c8c8c" stroke-width="0.9"/>
<line x1="290" y1="174.9" x2="305.5" y2="174.9" stroke="#8c8c8c" stroke-width="0.9"/>
<line x1="290" y1="168.75" x2="305.5" y2="168.75" stroke="#e4e4e4" stroke-width="0.7"/>
<rect x="318" y="162" width="15" height="13.5" fill="#ffffff"/>
<line x1="318" y1="162.6" x2="333" y2="162.6" stroke="#8c8c8c" stroke-width="0.9"/>
<line x1="318" y1="174.9" x2="333" y2="174.9" stroke="#8c8c8c" stroke-width="0.9"/>
<line x1="318" y1="168.75" x2="333" y2="168.75" stroke="#e4e4e4" stroke-width="0.7"/>
<rect x="406.80" y="133.30" width="9.6" height="41.9" fill="#666666" stroke="#5a5a5a" stroke-width="0.6"/>
<rect x="406.80" y="133.30" width="17.9" height="6.9" fill="#666666" stroke="#5a5a5a" stroke-width="0.6"/>
<rect x="575.80" y="133.30" width="16.9" height="6.9" fill="#666666" stroke="#5a5a5a" stroke-width="0.6"/>
<rect x="583.50" y="133.30" width="9.5" height="158.8" fill="#666666" stroke="#5a5a5a" stroke-width="0.6"/>
<line x1="425" y1="134.3" x2="575.5" y2="134.3" stroke="#4a4a4a" stroke-width="1.2"/>
<line x1="416.7" y1="140.6" x2="583" y2="140.6" stroke="#808080" stroke-width="1.0"/>
<rect x="406.30" y="164.70" width="20.4" height="10.5" fill="#666666" stroke="#5a5a5a" stroke-width="0.6"/>
<rect x="448.30" y="164.70" width="17.4" height="10.5" fill="#666666" stroke="#5a5a5a" stroke-width="0.6"/>
<rect x="534.70" y="164.70" width="18.0" height="10.5" fill="#666666" stroke="#5a5a5a" stroke-width="0.6"/>
<rect x="573.30" y="164.70" width="19.4" height="10.5" fill="#666666" stroke="#5a5a5a" stroke-width="0.6"/>
<line x1="427" y1="165.0" x2="448" y2="165.0" stroke="#8c8c8c" stroke-width="0.9"/>
<line x1="427" y1="174.9" x2="448" y2="174.9" stroke="#8c8c8c" stroke-width="0.9"/>
<line x1="427" y1="169.95" x2="448" y2="169.95" stroke="#e4e4e4" stroke-width="0.7"/>
<line x1="466" y1="165.0" x2="534.4" y2="165.0" stroke="#8c8c8c" stroke-width="0.9"/>
<line x1="466" y1="174.9" x2="534.4" y2="174.9" stroke="#8c8c8c" stroke-width="0.9"/>
<line x1="466" y1="169.95" x2="534.4" y2="169.95" stroke="#e4e4e4" stroke-width="0.7"/>
<line x1="553" y1="165.0" x2="573" y2="165.0" stroke="#8c8c8c" stroke-width="0.9"/>
<line x1="553" y1="174.9" x2="573" y2="174.9" stroke="#8c8c8c" stroke-width="0.9"/>
<line x1="553" y1="169.95" x2="573" y2="169.95" stroke="#e4e4e4" stroke-width="0.7"/>
<rect x="365.60" y="175.30" width="4.9" height="79.9" fill="#666666" stroke="#5a5a5a" stroke-width="0.6"/>
<rect x="411.80" y="175.30" width="4.7" height="66.4" fill="#666666" stroke="#5a5a5a" stroke-width="0.6"/>
<rect x="453.10" y="175.30" width="5.6" height="78.8" fill="#666666" stroke="#5a5a5a" stroke-width="0.6"/>
<rect x="453.50" y="273.60" width="4.8" height="7.6" fill="#666666" stroke="#5a5a5a" stroke-width="0.6"/>
<rect x="280.30" y="247.80" width="85.4" height="5.1" fill="#666666" stroke="#5a5a5a" stroke-width="0.6"/>
<rect x="371.10" y="242.30" width="12.6" height="5.4" fill="#666666" stroke="#5a5a5a" stroke-width="0.6"/>
<rect x="398.80" y="242.30" width="32.9" height="5.4" fill="#666666" stroke="#5a5a5a" stroke-width="0.6"/>
<rect x="416" y="242" width="16" height="6" rx="0" fill="none" stroke="#9a9a9a" stroke-width="0.7"/>
<line x1="417.8" y1="242" x2="417.8" y2="248" stroke="#8a8a8a" stroke-width="0.6"/>
<line x1="419.6" y1="242" x2="419.6" y2="248" stroke="#8a8a8a" stroke-width="0.6"/>
<line x1="421.40000000000003" y1="242" x2="421.40000000000003" y2="248" stroke="#8a8a8a" stroke-width="0.6"/>
<line x1="423.20000000000005" y1="242" x2="423.20000000000005" y2="248" stroke="#8a8a8a" stroke-width="0.6"/>
<line x1="425.00000000000006" y1="242" x2="425.00000000000006" y2="248" stroke="#8a8a8a" stroke-width="0.6"/>
<line x1="426.80000000000007" y1="242" x2="426.80000000000007" y2="248" stroke="#8a8a8a" stroke-width="0.6"/>
<line x1="428.6000000000001" y1="242" x2="428.6000000000001" y2="248" stroke="#8a8a8a" stroke-width="0.6"/>
<line x1="430.4000000000001" y1="242" x2="430.4000000000001" y2="248" stroke="#8a8a8a" stroke-width="0.6"/>
<rect x="444.30" y="242.30" width="14.4" height="5.4" fill="#666666" stroke="#5a5a5a" stroke-width="0.6"/>
<rect x="366.30" y="281.50" width="98.9" height="10.6" fill="#666666" stroke="#5a5a5a" stroke-width="0.6"/>
<rect x="417" y="281.5" width="48.5" height="10.5" fill="#7a7a7a"/>
<rect x="418.5" y="281.5" width="2.2" height="10.5" fill="#5c5c5c"/>
<rect x="422.4" y="281.5" width="2.2" height="10.5" fill="#5c5c5c"/>
<rect x="426.3" y="281.5" width="2.2" height="10.5" fill="#5c5c5c"/>
<rect x="430.2" y="281.5" width="2.2" height="10.5" fill="#5c5c5c"/>
<rect x="434.1" y="281.5" width="2.2" height="10.5" fill="#5c5c5c"/>
<rect x="438.0" y="281.5" width="2.2" height="10.5" fill="#5c5c5c"/>
<rect x="441.9" y="281.5" width="2.2" height="10.5" fill="#5c5c5c"/>
<rect x="445.8" y="281.5" width="2.2" height="10.5" fill="#5c5c5c"/>
<rect x="449.7" y="281.5" width="2.2" height="10.5" fill="#5c5c5c"/>
<rect x="453.6" y="281.5" width="2.2" height="10.5" fill="#5c5c5c"/>
<rect x="457.5" y="281.5" width="2.2" height="10.5" fill="#5c5c5c"/>
<rect x="461.4" y="281.5" width="2.2" height="10.5" fill="#5c5c5c"/>
<rect x="548.10" y="281.50" width="44.9" height="10.6" fill="#666666" stroke="#5a5a5a" stroke-width="0.6"/>
<line x1="465.5" y1="282.1" x2="547.8" y2="282.1" stroke="#8c8c8c" stroke-width="0.9"/>
<line x1="465.5" y1="291.4" x2="547.8" y2="291.4" stroke="#8c8c8c" stroke-width="0.9"/>
<line x1="465.5" y1="286.75" x2="547.8" y2="286.75" stroke="#e4e4e4" stroke-width="0.7"/>
<rect x="366.30" y="277.60" width="4.4" height="14.1" fill="#666666" stroke="#5a5a5a" stroke-width="0.6"/>
<rect x="272.30" y="341.80" width="33.4" height="6.4" fill="#666666" stroke="#5a5a5a" stroke-width="0.6"/>
<rect x="301.10" y="341.80" width="4.6" height="33.9" fill="#666666" stroke="#5a5a5a" stroke-width="0.6"/>
<rect x="301.10" y="371.10" width="18.6" height="5.3" fill="#666666" stroke="#5a5a5a" stroke-width="0.6"/>
<rect x="312.80" y="376.30" width="1.9" height="5.1" fill="#666666" stroke="#5a5a5a" stroke-width="0.6"/>
<rect x="272.10" y="341.80" width="7.1" height="182.9" fill="#666666" stroke="#5a5a5a" stroke-width="0.6"/>
<rect x="337.00" y="370.30" width="82.7" height="7.0" fill="#666666" stroke="#5a5a5a" stroke-width="0.6"/>
<line x1="339.5" y1="373.8" x2="341.5" y2="373.8" stroke="#8c8c8c" stroke-width="0.8"/>
<line x1="343.6" y1="373.8" x2="345.6" y2="373.8" stroke="#8c8c8c" stroke-width="0.8"/>
<line x1="347.7" y1="373.8" x2="349.7" y2="373.8" stroke="#8c8c8c" stroke-width="0.8"/>
<line x1="351.8" y1="373.8" x2="353.8" y2="373.8" stroke="#8c8c8c" stroke-width="0.8"/>
<line x1="355.9" y1="373.8" x2="357.9" y2="373.8" stroke="#8c8c8c" stroke-width="0.8"/>
<line x1="360.0" y1="373.8" x2="362.0" y2="373.8" stroke="#8c8c8c" stroke-width="0.8"/>
<line x1="364.1" y1="373.8" x2="366.1" y2="373.8" stroke="#8c8c8c" stroke-width="0.8"/>
<line x1="368.2" y1="373.8" x2="370.2" y2="373.8" stroke="#8c8c8c" stroke-width="0.8"/>
<line x1="372.3" y1="373.8" x2="374.3" y2="373.8" stroke="#8c8c8c" stroke-width="0.8"/>
<line x1="376.4" y1="373.8" x2="378.4" y2="373.8" stroke="#8c8c8c" stroke-width="0.8"/>
<line x1="380.5" y1="373.8" x2="382.5" y2="373.8" stroke="#8c8c8c" stroke-width="0.8"/>
<line x1="384.6" y1="373.8" x2="386.6" y2="373.8" stroke="#8c8c8c" stroke-width="0.8"/>
<line x1="388.7" y1="373.8" x2="390.7" y2="373.8" stroke="#8c8c8c" stroke-width="0.8"/>
<line x1="392.8" y1="373.8" x2="394.8" y2="373.8" stroke="#8c8c8c" stroke-width="0.8"/>
<line x1="396.9" y1="373.8" x2="398.9" y2="373.8" stroke="#8c8c8c" stroke-width="0.8"/>
<line x1="401.0" y1="373.8" x2="403.0" y2="373.8" stroke="#8c8c8c" stroke-width="0.8"/>
<line x1="405.1" y1="373.8" x2="407.1" y2="373.8" stroke="#8c8c8c" stroke-width="0.8"/>
<line x1="409.2" y1="373.8" x2="411.2" y2="373.8" stroke="#8c8c8c" stroke-width="0.8"/>
<line x1="413.3" y1="373.8" x2="415.3" y2="373.8" stroke="#8c8c8c" stroke-width="0.8"/>
<line x1="417.4" y1="373.8" x2="419.4" y2="373.8" stroke="#8c8c8c" stroke-width="0.8"/>
<rect x="279.30" y="422.80" width="34.4" height="7.7" fill="#666666" stroke="#5a5a5a" stroke-width="0.6"/>
<rect x="312.60" y="399.30" width="2.3" height="56.4" fill="#666666" stroke="#5a5a5a" stroke-width="0.6"/>
<rect x="272.30" y="478.80" width="55.6" height="10.9" fill="#666666" stroke="#5a5a5a" stroke-width="0.6"/>
<rect x="387.00" y="478.80" width="45.4" height="10.9" fill="#666666" stroke="#5a5a5a" stroke-width="0.6"/>
<line x1="328.2" y1="479.1" x2="386.7" y2="479.1" stroke="#8c8c8c" stroke-width="0.9"/>
<line x1="328.2" y1="489.4" x2="386.7" y2="489.4" stroke="#8c8c8c" stroke-width="0.9"/>
<line x1="328.2" y1="484.25" x2="386.7" y2="484.25" stroke="#e4e4e4" stroke-width="0.7"/>
<rect x="409.10" y="417.50" width="23.3" height="12.8" fill="#666666" stroke="#5a5a5a" stroke-width="0.6"/>
<rect x="421.50" y="417.50" width="10.9" height="72.2" fill="#666666" stroke="#5a5a5a" stroke-width="0.6"/>
<rect x="409.10" y="478.30" width="23.3" height="11.4" fill="#666666" stroke="#5a5a5a" stroke-width="0.6"/>
<rect x="409.30" y="339.30" width="9.4" height="6.4" fill="#666666" stroke="#5a5a5a" stroke-width="0.6"/>
<rect x="409.30" y="289.30" width="9.4" height="4.4" fill="#666666" stroke="#5a5a5a" stroke-width="0.6"/>
<path d="M432.7,483.8 H586 V292" fill="none" stroke="#4a4a4a" stroke-width="1.0"/>
<rect x="281" y="489.2" width="312" height="3.0" fill="#8c8c8c"/>
<path d="M281.3,524 V489.6 H592.5 V292" fill="none" stroke="#4a4a4a" stroke-width="1.1"/>
<rect x="94.30" y="341.10" width="70.7" height="8.4" fill="#666666" stroke="#5a5a5a" stroke-width="0.6"/>
<rect x="157.90" y="298.30" width="2.5" height="16.1" fill="#666666" stroke="#5a5a5a" stroke-width="0.6"/>
<rect x="157.90" y="332.30" width="2.5" height="8.4" fill="#666666" stroke="#5a5a5a" stroke-width="0.6"/>
<rect x="183.00" y="341.30" width="10.0" height="8.2" fill="#666666" stroke="#5a5a5a" stroke-width="0.6"/>
<rect x="185.70" y="349.30" width="4.5" height="162.9" fill="#666666" stroke="#5a5a5a" stroke-width="0.6"/>
<rect x="211.00" y="341.30" width="69.7" height="8.2" fill="#666666" stroke="#5a5a5a" stroke-width="0.6"/>
<rect x="157.70" y="349.30" width="3.2" height="30.4" fill="#666666" stroke="#5a5a5a" stroke-width="0.6"/>
<rect x="106.30" y="401.30" width="54.6" height="3.7" fill="#666666" stroke="#5a5a5a" stroke-width="0.6"/>
<rect x="157.70" y="398.90" width="3.2" height="6.1" fill="#666666" stroke="#5a5a5a" stroke-width="0.6"/>
<rect x="107" y="349.5" width="2.3" height="52.5" fill="#3c3c3c"/>
<rect x="216.00" y="349.30" width="2.3" height="30.4" fill="#666666" stroke="#5a5a5a" stroke-width="0.6"/>
<rect x="216.30" y="401.30" width="54.4" height="3.7" fill="#666666" stroke="#5a5a5a" stroke-width="0.6"/>
<rect x="216.00" y="398.90" width="3.2" height="6.1" fill="#666666" stroke="#5a5a5a" stroke-width="0.6"/>
<rect x="267.8" y="349" width="3.2" height="53" fill="#3c3c3c"/>
<rect x="94.30" y="512.80" width="29.4" height="11.9" fill="#666666" stroke="#5a5a5a" stroke-width="0.6"/>
<rect x="169.80" y="512.80" width="35.9" height="11.9" fill="#666666" stroke="#5a5a5a" stroke-width="0.6"/>
<rect x="252.80" y="512.80" width="27.9" height="11.9" fill="#666666" stroke="#5a5a5a" stroke-width="0.6"/>
<line x1="124" y1="513.1" x2="169.5" y2="513.1" stroke="#8c8c8c" stroke-width="0.9"/>
<line x1="124" y1="524.4" x2="169.5" y2="524.4" stroke="#8c8c8c" stroke-width="0.9"/>
<line x1="124" y1="518.75" x2="169.5" y2="518.75" stroke="#e4e4e4" stroke-width="0.7"/>
<line x1="206" y1="513.1" x2="252.5" y2="513.1" stroke="#8c8c8c" stroke-width="0.9"/>
<line x1="206" y1="524.4" x2="252.5" y2="524.4" stroke="#8c8c8c" stroke-width="0.9"/>
<line x1="206" y1="518.75" x2="252.5" y2="518.75" stroke="#e4e4e4" stroke-width="0.7"/>
<line x1="105.6" y1="298.5" x2="157.6" y2="298.5" stroke="#3c3c3c" stroke-width="1.0"/>
<line x1="106.2" y1="298" x2="106.2" y2="341" stroke="#3c3c3c" stroke-width="1.1"/>
<ellipse cx="184.4" cy="132.8" rx="6.7" ry="7.6" fill="url(#bg)"/>
<text x="184.4" y="135.9" text-anchor="middle" font-size="9" fill="#f29c9c" textLength="4.2" lengthAdjust="spacingAndGlyphs">6</text>
<ellipse cx="133.3" cy="200.5" rx="6.7" ry="7.6" fill="url(#bg)"/>
<text x="133.3" y="203.6" text-anchor="middle" font-size="9" fill="#f29c9c" textLength="4.2" lengthAdjust="spacingAndGlyphs">5</text>
<ellipse cx="194.4" cy="209.4" rx="6.7" ry="7.6" fill="url(#bg)"/>
<text x="194.4" y="212.5" text-anchor="middle" font-size="9" fill="#f29c9c" textLength="4.2" lengthAdjust="spacingAndGlyphs">3</text>
<ellipse cx="330.7" cy="194.4" rx="6.7" ry="7.6" fill="url(#bg)"/>
<text x="330.7" y="197.5" text-anchor="middle" font-size="9" fill="#f29c9c" textLength="4.2" lengthAdjust="spacingAndGlyphs">4</text>
<ellipse cx="389.3" cy="195.5" rx="6.7" ry="7.6" fill="url(#bg)"/>
<text x="389.3" y="198.6" text-anchor="middle" font-size="9" fill="#f29c9c" textLength="8.4" lengthAdjust="spacingAndGlyphs">15</text>
<ellipse cx="439.5" cy="207.8" rx="6.7" ry="7.6" fill="url(#bg)"/>
<text x="439.5" y="210.9" text-anchor="middle" font-size="9" fill="#f29c9c" textLength="8.4" lengthAdjust="spacingAndGlyphs">16</text>
<ellipse cx="402.2" cy="267.8" rx="6.7" ry="7.6" fill="url(#bg)"/>
<text x="402.2" y="270.90000000000003" text-anchor="middle" font-size="9" fill="#f29c9c" textLength="8.4" lengthAdjust="spacingAndGlyphs">14</text>
<ellipse cx="292.4" cy="292" rx="6.7" ry="7.6" fill="url(#bg)"/>
<text x="292.4" y="295.1" text-anchor="middle" font-size="9" fill="#f29c9c" textLength="4.2" lengthAdjust="spacingAndGlyphs">1</text>
<ellipse cx="491" cy="153.3" rx="6.7" ry="7.6" fill="url(#bg)"/>
<text x="491" y="156.4" text-anchor="middle" font-size="9" fill="#f29c9c" textLength="8.4" lengthAdjust="spacingAndGlyphs">18</text>
<ellipse cx="546.2" cy="240" rx="6.7" ry="7.6" fill="url(#bg)"/>
<text x="546.2" y="243.1" text-anchor="middle" font-size="9" fill="#f29c9c" textLength="8.4" lengthAdjust="spacingAndGlyphs">17</text>
<ellipse cx="453.2" cy="366.2" rx="6.7" ry="7.6" fill="url(#bg)"/>
<text x="453.2" y="369.3" text-anchor="middle" font-size="9" fill="#f29c9c" textLength="8.4" lengthAdjust="spacingAndGlyphs">19</text>
<ellipse cx="117.8" cy="320.6" rx="6.7" ry="7.6" fill="url(#bg)"/>
<text x="117.8" y="323.70000000000005" text-anchor="middle" font-size="9" fill="#f29c9c" textLength="4.2" lengthAdjust="spacingAndGlyphs">2</text>
<ellipse cx="131.8" cy="372.8" rx="6.7" ry="7.6" fill="url(#bg)"/>
<text x="131.8" y="375.90000000000003" text-anchor="middle" font-size="9" fill="#f29c9c" textLength="4.2" lengthAdjust="spacingAndGlyphs">8</text>
<ellipse cx="246.7" cy="371.2" rx="6.7" ry="7.6" fill="url(#bg)"/>
<text x="246.7" y="374.3" text-anchor="middle" font-size="9" fill="#f29c9c" textLength="8.4" lengthAdjust="spacingAndGlyphs">10</text>
<ellipse cx="163.75" cy="433.75" rx="6.7" ry="7.6" fill="url(#bg)"/>
<text x="163.75" y="436.85" text-anchor="middle" font-size="9" fill="#f29c9c" textLength="4.2" lengthAdjust="spacingAndGlyphs">7</text>
<ellipse cx="206.25" cy="433.75" rx="6.7" ry="7.6" fill="url(#bg)"/>
<text x="206.25" y="436.85" text-anchor="middle" font-size="9" fill="#f29c9c" textLength="4.2" lengthAdjust="spacingAndGlyphs">9</text>
<ellipse cx="291.6" cy="382.4" rx="6.7" ry="7.6" fill="url(#bg)"/>
<text x="291.6" y="385.5" text-anchor="middle" font-size="9" fill="#f29c9c" textLength="8.4" lengthAdjust="spacingAndGlyphs">13</text>
<ellipse cx="344.4" cy="417" rx="6.7" ry="7.6" fill="url(#bg)"/>
<text x="344.4" y="420.1" text-anchor="middle" font-size="9" fill="#f29c9c" textLength="8.4" lengthAdjust="spacingAndGlyphs">11</text>
<ellipse cx="302.6" cy="449" rx="6.7" ry="7.6" fill="url(#bg)"/>
<text x="302.6" y="452.1" text-anchor="middle" font-size="9" fill="#f29c9c" textLength="8.4" lengthAdjust="spacingAndGlyphs">12</text>
<text x="195.5" y="135.35" font-size="9.4" fill="#262626" stroke="#262626" stroke-width="0.12" textLength="22.900000000000006" lengthAdjust="spacingAndGlyphs">7,6 м<tspan font-size="5.6" dy="-3.8">2</tspan></text>
<text x="123" y="225.35" font-size="9.4" fill="#262626" stroke="#262626" stroke-width="0.12" textLength="21" lengthAdjust="spacingAndGlyphs">12 м<tspan font-size="5.6" dy="-3.8">2</tspan></text>
<text x="186.7" y="230.35" font-size="9.4" fill="#262626" stroke="#262626" stroke-width="0.12" textLength="20.30000000000001" lengthAdjust="spacingAndGlyphs">28 м<tspan font-size="5.6" dy="-3.8">2</tspan></text>
<text x="320" y="216.25" font-size="9.4" fill="#262626" stroke="#262626" stroke-width="0.12" textLength="26.69999999999999" lengthAdjust="spacingAndGlyphs">11,6 м<tspan font-size="5.6" dy="-3.8">2</tspan></text>
<text x="382" y="216.35" font-size="9.4" fill="#262626" stroke="#262626" stroke-width="0.12" textLength="17.5" lengthAdjust="spacingAndGlyphs">5 м<tspan font-size="5.6" dy="-3.8">2</tspan></text>
<text x="432" y="229.35" font-size="9.4" fill="#262626" stroke="#262626" stroke-width="0.12" textLength="15.800000000000011" lengthAdjust="spacingAndGlyphs">4 м<tspan font-size="5.6" dy="-3.8">2</tspan></text>
<text x="415.5" y="270.05" font-size="9.4" fill="#262626" stroke="#262626" stroke-width="0.12" textLength="15.5" lengthAdjust="spacingAndGlyphs">5 м<tspan font-size="5.6" dy="-3.8">2</tspan></text>
<text x="284.4" y="312.35" font-size="9.4" fill="#262626" stroke="#262626" stroke-width="0.12" textLength="21.200000000000045" lengthAdjust="spacingAndGlyphs">27 м<tspan font-size="5.6" dy="-3.8">2</tspan></text>
<text x="503.3" y="156.35" font-size="9.4" fill="#262626" stroke="#262626" stroke-width="0.12" textLength="22.19999999999999" lengthAdjust="spacingAndGlyphs">7,6 м<tspan font-size="5.6" dy="-3.8">2</tspan></text>
<text x="536.7" y="262.25" font-size="9.4" fill="#262626" stroke="#262626" stroke-width="0.12" textLength="21.5" lengthAdjust="spacingAndGlyphs">25 м<tspan font-size="5.6" dy="-3.8">2</tspan></text>
<text x="443.3" y="390.85" font-size="9.4" fill="#262626" stroke="#262626" stroke-width="0.12" textLength="22.0" lengthAdjust="spacingAndGlyphs">60 м<tspan font-size="5.6" dy="-3.8">2</tspan></text>
<text x="128.2" y="324.35" font-size="9.4" fill="#262626" stroke="#262626" stroke-width="0.12" textLength="21.80000000000001" lengthAdjust="spacingAndGlyphs">4,4 м<tspan font-size="5.6" dy="-3.8">2</tspan></text>
<text x="125" y="393.85" font-size="9.4" fill="#262626" stroke="#262626" stroke-width="0.12" textLength="16.25" lengthAdjust="spacingAndGlyphs">5 м<tspan font-size="5.6" dy="-3.8">2</tspan></text>
<text x="240" y="393.85" font-size="9.4" fill="#262626" stroke="#262626" stroke-width="0.12" textLength="16" lengthAdjust="spacingAndGlyphs">5 м<tspan font-size="5.6" dy="-3.8">2</tspan></text>
<text x="158.75" y="454.35" font-size="9.4" fill="#262626" stroke="#262626" stroke-width="0.12" textLength="20.0" lengthAdjust="spacingAndGlyphs">19 м<tspan font-size="5.6" dy="-3.8">2</tspan></text>
<text x="197" y="454.35" font-size="9.4" fill="#262626" stroke="#262626" stroke-width="0.12" textLength="20.5" lengthAdjust="spacingAndGlyphs">19 м<tspan font-size="5.6" dy="-3.8">2</tspan></text>
<text x="286" y="402.35" font-size="9.4" fill="#262626" stroke="#262626" stroke-width="0.12" textLength="16" lengthAdjust="spacingAndGlyphs">4 м<tspan font-size="5.6" dy="-3.8">2</tspan></text>
<text x="337.6" y="440.35" font-size="9.4" fill="#262626" stroke="#262626" stroke-width="0.12" textLength="20.399999999999977" lengthAdjust="spacingAndGlyphs">19 м<tspan font-size="5.6" dy="-3.8">2</tspan></text>
<text x="297" y="471.35" font-size="9.4" fill="#262626" stroke="#262626" stroke-width="0.12" textLength="16" lengthAdjust="spacingAndGlyphs">3 м<tspan font-size="5.6" dy="-3.8">2</tspan></text>
<text x="653.4" y="187.5" font-size="16.2" fill="#1c1c1c" stroke="#1c1c1c" stroke-width="0.25" transform="translate(653.4 0) scale(0.86 1) translate(-653.4 0)">2 этаж</text>
<text x="665.5" y="217.30" text-anchor="end" font-size="10.6" fill="#1c1c1c" stroke="#1c1c1c" stroke-width="0.22" transform="translate(665.5 0) scale(0.85 1) translate(-665.5 0)">1.</text>
<text x="669.3" y="217.30" font-size="10.6" fill="#1c1c1c" stroke="#1c1c1c" stroke-width="0.22" transform="translate(669.3 0) scale(0.95 1) translate(-669.3 0)">Холл</text>
<text x="665.5" y="232.40" text-anchor="end" font-size="10.6" fill="#1c1c1c" stroke="#1c1c1c" stroke-width="0.22" transform="translate(665.5 0) scale(0.85 1) translate(-665.5 0)">2.</text>
<text x="669.3" y="232.40" font-size="10.6" fill="#1c1c1c" stroke="#1c1c1c" stroke-width="0.22" transform="translate(669.3 0) scale(0.95 1) translate(-669.3 0)">Санузел</text>
<text x="665.5" y="247.50" text-anchor="end" font-size="10.6" fill="#1c1c1c" stroke="#1c1c1c" stroke-width="0.22" transform="translate(665.5 0) scale(0.85 1) translate(-665.5 0)">3.</text>
<text x="669.3" y="247.50" font-size="10.6" fill="#1c1c1c" stroke="#1c1c1c" stroke-width="0.22" transform="translate(669.3 0) scale(0.95 1) translate(-669.3 0)">Мастер-спальня</text>
<text x="665.5" y="262.60" text-anchor="end" font-size="10.6" fill="#1c1c1c" stroke="#1c1c1c" stroke-width="0.22" transform="translate(665.5 0) scale(0.85 1) translate(-665.5 0)">4.</text>
<text x="669.3" y="262.60" font-size="10.6" fill="#1c1c1c" stroke="#1c1c1c" stroke-width="0.22" transform="translate(669.3 0) scale(0.95 1) translate(-669.3 0)">Гардеробная</text>
<text x="665.5" y="277.70" text-anchor="end" font-size="10.6" fill="#1c1c1c" stroke="#1c1c1c" stroke-width="0.22" transform="translate(665.5 0) scale(0.85 1) translate(-665.5 0)">5.</text>
<text x="669.3" y="277.70" font-size="10.6" fill="#1c1c1c" stroke="#1c1c1c" stroke-width="0.22" transform="translate(669.3 0) scale(0.95 1) translate(-669.3 0)">Мастер санузел</text>
<text x="665.5" y="292.80" text-anchor="end" font-size="10.6" fill="#1c1c1c" stroke="#1c1c1c" stroke-width="0.22" transform="translate(665.5 0) scale(0.85 1) translate(-665.5 0)">6.</text>
<text x="669.3" y="292.80" font-size="10.6" fill="#1c1c1c" stroke="#1c1c1c" stroke-width="0.22" transform="translate(669.3 0) scale(0.95 1) translate(-669.3 0)">Балкон</text>
<text x="665.5" y="307.90" text-anchor="end" font-size="10.6" fill="#1c1c1c" stroke="#1c1c1c" stroke-width="0.22" transform="translate(665.5 0) scale(0.85 1) translate(-665.5 0)">7.</text>
<text x="669.3" y="307.90" font-size="10.6" fill="#1c1c1c" stroke="#1c1c1c" stroke-width="0.22" transform="translate(669.3 0) scale(0.95 1) translate(-669.3 0)">Детская</text>
<text x="665.5" y="323.00" text-anchor="end" font-size="10.6" fill="#1c1c1c" stroke="#1c1c1c" stroke-width="0.22" transform="translate(665.5 0) scale(0.85 1) translate(-665.5 0)">8.</text>
<text x="669.3" y="323.00" font-size="10.6" fill="#1c1c1c" stroke="#1c1c1c" stroke-width="0.22" transform="translate(669.3 0) scale(0.95 1) translate(-669.3 0)">Детский санузел</text>
<text x="665.5" y="338.10" text-anchor="end" font-size="10.6" fill="#1c1c1c" stroke="#1c1c1c" stroke-width="0.22" transform="translate(665.5 0) scale(0.85 1) translate(-665.5 0)">9.</text>
<text x="669.3" y="338.10" font-size="10.6" fill="#1c1c1c" stroke="#1c1c1c" stroke-width="0.22" transform="translate(669.3 0) scale(0.95 1) translate(-669.3 0)">Детская</text>
<text x="665.5" y="353.20" text-anchor="end" font-size="10.6" fill="#1c1c1c" stroke="#1c1c1c" stroke-width="0.22" transform="translate(665.5 0) scale(0.85 1) translate(-665.5 0)">10.</text>
<text x="669.3" y="353.20" font-size="10.6" fill="#1c1c1c" stroke="#1c1c1c" stroke-width="0.22" transform="translate(669.3 0) scale(0.95 1) translate(-669.3 0)">Детский санузел</text>
<text x="665.5" y="368.30" text-anchor="end" font-size="10.6" fill="#1c1c1c" stroke="#1c1c1c" stroke-width="0.22" transform="translate(665.5 0) scale(0.85 1) translate(-665.5 0)">11.</text>
<text x="669.3" y="368.30" font-size="10.6" fill="#1c1c1c" stroke="#1c1c1c" stroke-width="0.22" transform="translate(669.3 0) scale(0.95 1) translate(-669.3 0)">Кабинет</text>
<text x="665.5" y="383.40" text-anchor="end" font-size="10.6" fill="#1c1c1c" stroke="#1c1c1c" stroke-width="0.22" transform="translate(665.5 0) scale(0.85 1) translate(-665.5 0)">12.</text>
<text x="669.3" y="383.40" font-size="10.6" fill="#1c1c1c" stroke="#1c1c1c" stroke-width="0.22" transform="translate(669.3 0) scale(0.95 1) translate(-669.3 0)">Гардеробная</text>
<text x="665.5" y="398.50" text-anchor="end" font-size="10.6" fill="#1c1c1c" stroke="#1c1c1c" stroke-width="0.22" transform="translate(665.5 0) scale(0.85 1) translate(-665.5 0)">13.</text>
<text x="669.3" y="398.50" font-size="10.6" fill="#1c1c1c" stroke="#1c1c1c" stroke-width="0.22" transform="translate(669.3 0) scale(0.95 1) translate(-669.3 0)">Санузел</text>
<text x="665.5" y="413.60" text-anchor="end" font-size="10.6" fill="#1c1c1c" stroke="#1c1c1c" stroke-width="0.22" transform="translate(665.5 0) scale(0.85 1) translate(-665.5 0)">14.</text>
<text x="669.3" y="413.60" font-size="10.6" fill="#1c1c1c" stroke="#1c1c1c" stroke-width="0.22" transform="translate(669.3 0) scale(0.95 1) translate(-669.3 0)">Холл в СПА</text>
<text x="665.5" y="428.70" text-anchor="end" font-size="10.6" fill="#1c1c1c" stroke="#1c1c1c" stroke-width="0.22" transform="translate(665.5 0) scale(0.85 1) translate(-665.5 0)">15.</text>
<text x="669.3" y="428.70" font-size="10.6" fill="#1c1c1c" stroke="#1c1c1c" stroke-width="0.22" transform="translate(669.3 0) scale(0.95 1) translate(-669.3 0)">Хаммам</text>
<text x="665.5" y="443.80" text-anchor="end" font-size="10.6" fill="#1c1c1c" stroke="#1c1c1c" stroke-width="0.22" transform="translate(665.5 0) scale(0.85 1) translate(-665.5 0)">16.</text>
<text x="669.3" y="443.80" font-size="10.6" fill="#1c1c1c" stroke="#1c1c1c" stroke-width="0.22" transform="translate(669.3 0) scale(0.95 1) translate(-669.3 0)">Санузел</text>
<text x="665.5" y="458.90" text-anchor="end" font-size="10.6" fill="#1c1c1c" stroke="#1c1c1c" stroke-width="0.22" transform="translate(665.5 0) scale(0.85 1) translate(-665.5 0)">17.</text>
<text x="669.3" y="458.90" font-size="10.6" fill="#1c1c1c" stroke="#1c1c1c" stroke-width="0.22" transform="translate(669.3 0) scale(0.95 1) translate(-669.3 0)">Комната отдыха</text>
<text x="665.5" y="474.00" text-anchor="end" font-size="10.6" fill="#1c1c1c" stroke="#1c1c1c" stroke-width="0.22" transform="translate(665.5 0) scale(0.85 1) translate(-665.5 0)">18.</text>
<text x="669.3" y="474.00" font-size="10.6" fill="#1c1c1c" stroke="#1c1c1c" stroke-width="0.22" transform="translate(669.3 0) scale(0.95 1) translate(-669.3 0)">Балкон</text>
<text x="665.5" y="489.10" text-anchor="end" font-size="10.6" fill="#1c1c1c" stroke="#1c1c1c" stroke-width="0.22" transform="translate(665.5 0) scale(0.85 1) translate(-665.5 0)">19.</text>
<text x="669.3" y="489.10" font-size="10.6" fill="#1c1c1c" stroke="#1c1c1c" stroke-width="0.22" transform="translate(669.3 0) scale(0.95 1) translate(-669.3 0)">Терраса</text>
<text x="443" y="536.2" font-size="8.5" fill="#1e1e1e" stroke="#1e1e1e" stroke-width="0.18" textLength="93" lengthAdjust="spacingAndGlyphs">Теплая площадь 197 м2</text>
<text x="443" y="548.4" font-size="8.5" fill="#1e1e1e" stroke="#1e1e1e" stroke-width="0.18" textLength="148.5" lengthAdjust="spacingAndGlyphs">Общая площадь с террасами 272,5 м2</text>
</svg>
</body></html>
